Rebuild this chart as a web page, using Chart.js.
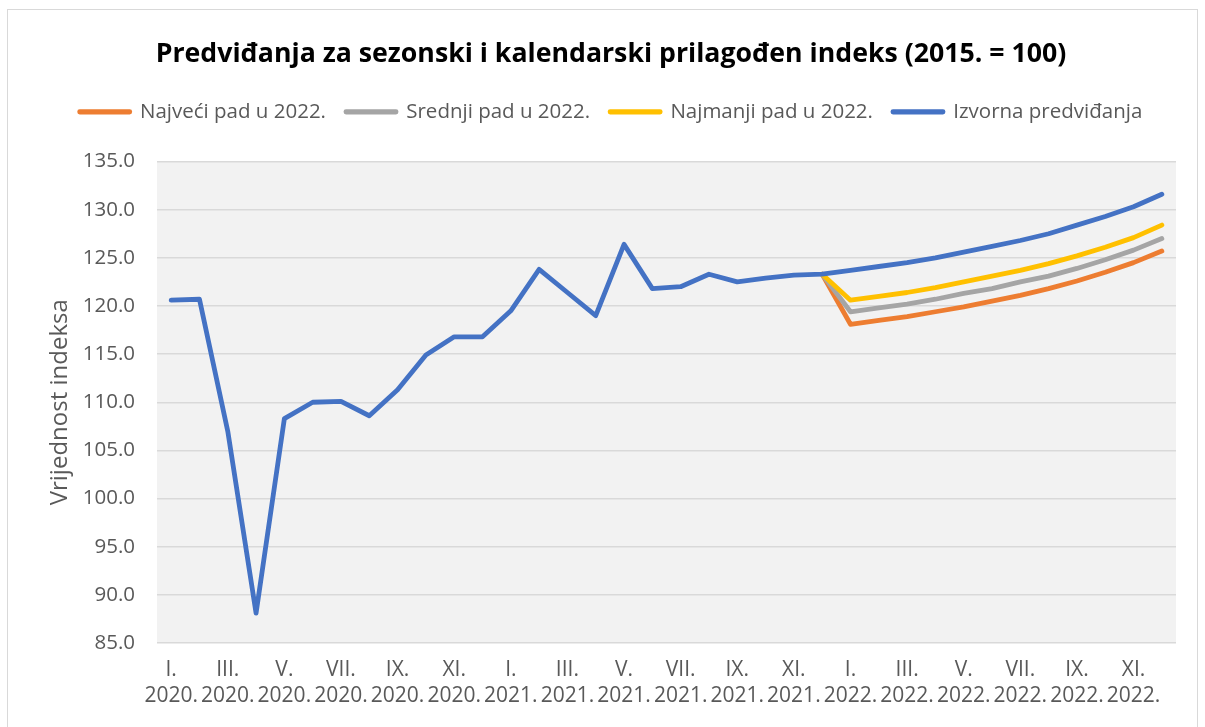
<!DOCTYPE html>
<html lang="hr">
<head>
  <meta charset="UTF-8" />
  <title>Predviđanja indeksa</title>
  <script src="https://cdn.jsdelivr.net/npm/chart.js"></script>
  <style>
    html, body { margin: 0; padding: 0; background: #fff; }
    #wrap { width: 1205px; height: 727px; }
  </style>
</head>
<body>
<div id="wrap"><canvas id="chart" width="1205" height="727"></canvas></div>
<script>
  const months = ['I.', 'II.', 'III.', 'IV.', 'V.', 'VI.', 'VII.', 'VIII.', 'IX.', 'X.', 'XI.', 'XII.'];
  const years = ['2020.', '2021.', '2022.'];

  // 2020-2021, zajedničko za sve serije
  const history = [120.6, 120.7, 107.0, 88.1, 108.3, 110.0, 110.1, 108.6, 111.3, 114.9, 116.8, 116.8,
                   119.5, 123.8, 121.4, 119.0, 126.4, 121.8, 122.0, 123.3, 122.5, 122.9, 123.2, 123.3];

  // 2022.
  const izvorna  = [123.7, 124.1, 124.5, 125.0, 125.6, 126.2, 126.8, 127.5, 128.4, 129.3, 130.3, 131.6];
  const najmanji = [120.6, 121.0, 121.4, 121.9, 122.5, 123.1, 123.7, 124.4, 125.2, 126.1, 127.1, 128.4];
  const srednji  = [119.4, 119.8, 120.2, 120.7, 121.3, 121.8, 122.5, 123.1, 123.9, 124.8, 125.8, 127.0];
  const najveci  = [118.1, 118.5, 118.9, 119.4, 119.9, 120.5, 121.1, 121.8, 122.6, 123.5, 124.5, 125.7];

  const labels = [];
  years.forEach(y => months.forEach(m => labels.push([m, y])));

  // scenariji kreću od prosinca 2021.
  const lead = new Array(history.length - 1).fill(null);
  const lastHist = history[history.length - 1];
  function scenario(vals) { return lead.concat([lastHist], vals); }

  const FONT = "'Open Sans', sans-serif";
  const GREY = '#595959';

  const bgPlugin = {
    id: 'bg',
    beforeDraw(chart) {
      const { ctx, chartArea: a } = chart;
      ctx.save();
      ctx.fillStyle = '#fff';
      ctx.fillRect(0, 0, chart.width, chart.height);
      ctx.strokeStyle = '#D9D9D9';
      ctx.lineWidth = 1;
      ctx.strokeRect(7.5, 9.5, 1190, 740);
      ctx.fillStyle = '#F2F2F2';
      ctx.fillRect(a.left, a.top, a.right - a.left, a.bottom - a.top);
      ctx.restore();
    }
  };

  function ds(label, data, color, order) {
    return {
      label, data, order,
      borderColor: color,
      backgroundColor: color,
      borderWidth: 4.8,
      borderCapStyle: 'round',
      borderJoinStyle: 'round',
      pointRadius: 0,
      tension: 0,
      spanGaps: false
    };
  }

  new Chart(document.getElementById('chart'), {
    type: 'line',
    data: {
      labels,
      datasets: [
        ds('Najveći pad u 2022.', scenario(najveci), '#ED7D31', 3),
        ds('Srednji pad u 2022.', scenario(srednji), '#A5A5A5', 2),
        ds('Najmanji pad u 2022.', scenario(najmanji), '#FFC000', 1),
        ds('Izvorna predviđanja', history.concat(izvorna), '#4472C4', 0)
      ]
    },
    options: {
      responsive: false,
      animation: false,
      layout: { padding: { left: 46, right: 29, top: 0, bottom: 0 } },
      plugins: {
        title: {
          display: true,
          text: 'Predviđanja za sezonski i kalendarski prilagođen indeks (2015. = 100)',
          color: '#000',
          font: { family: FONT, size: 26.7, weight: 'bold' },
          padding: { top: 38, bottom: 11.5 }
        },
        // razmak između legende i grafikona
        subtitle: {
          display: true,
          text: '',
          weight: 500,
          font: { size: 12, lineHeight: 1 },
          padding: { top: 8, bottom: 9.5 }
        },
        legend: {
          labels: {
            color: GREY,
            font: { family: FONT, size: 20.5 },
            boxWidth: 50,
            boxHeight: 0.5,
            padding: 20,
            sort: (a, b) => a.datasetIndex - b.datasetIndex
          }
        },
        tooltip: { enabled: false }
      },
      scales: {
        x: {
          offset: true,
          grid: { display: false },
          border: { display: false },
          afterFit: s => { s.height = 84; },
          ticks: {
            autoSkip: false,
            maxRotation: 0,
            minRotation: 0,
            padding: 6,
            color: GREY,
            font: { family: FONT, size: 21, lineHeight: 1.25 },
            callback: (v, i) => (i % 2 === 0 ? labels[i] : '')
          }
        },
        y: {
          min: 85,
          max: 135,
          afterFit: s => { s.width = 111; },
          border: { display: false },
          grid: { color: '#D9D9D9', lineWidth: 1.5, drawTicks: false },
          ticks: {
            stepSize: 5,
            padding: 22,
            color: GREY,
            font: { family: FONT, size: 20.5 },
            callback: v => v.toFixed(1)
          },
          title: {
            display: true,
            text: 'Vrijednost indeksa',
            color: GREY,
            font: { family: FONT, size: 24 },
            padding: { top: 0, bottom: 0 }
          }
        }
      }
    },
    plugins: [bgPlugin]
  });
</script>
</body>
</html>
